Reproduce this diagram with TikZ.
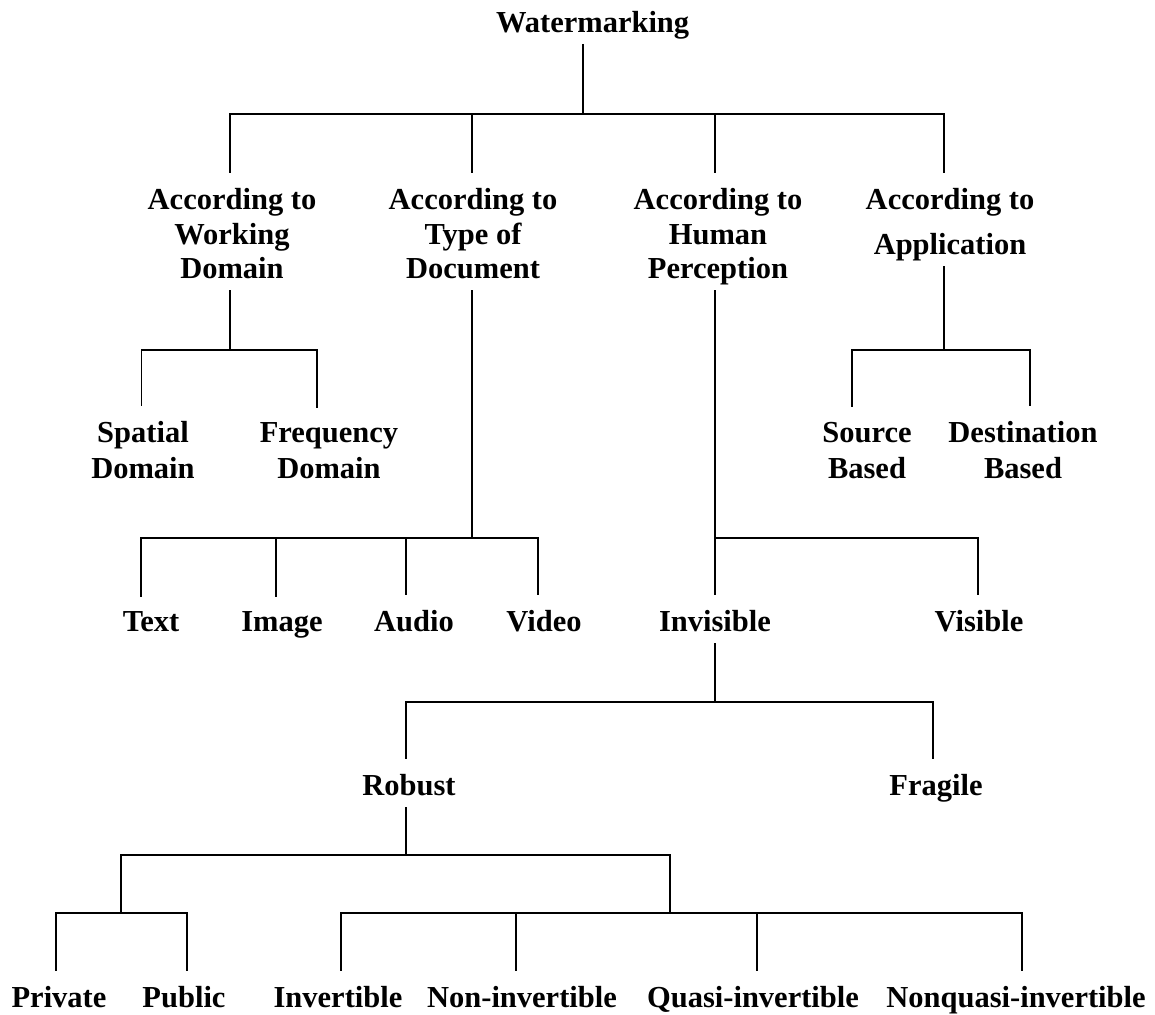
\documentclass[tikz,border=0pt]{standalone}
\usepackage{fontspec}
\setmainfont{Liberation Serif}
\begin{document}
\begin{tikzpicture}[x=1pt,y=-1pt,
  lbl/.style={font=\bfseries\fontsize{30.5}{34.5}\selectfont, inner sep=0pt,
              align=center, text depth=0pt, anchor=south},
  link/.style={line width=1.3pt, line cap=rect},
  into/.style={link, line cap=butt, shorten >=15pt},
  outof/.style={link, line cap=butt, shorten <=11pt},
]
\useasboundingbox (0,0) rectangle (1155,1014);

% ---- labels (placed by the baseline of their last line) ----
\node[lbl] (wm)  at (592.6,33)  {Watermarking};

\node[lbl] (wd)  at (232,279) {According to\\Working\\Domain};
\node[lbl] (td)  at (473,279) {According to\\Type of\\Document};
\node[lbl] (hp)  at (718,279) {According to\\Human\\Perception};
\node[lbl] (ap)  at (950,255) {According to\\[10.5pt]Application};

\node[lbl] (sp)  at (143,479)  {Spatial\\[1.5pt]Domain};
\node[lbl] (fr)  at (329,479)  {Frequency\\[1.5pt]Domain};
\node[lbl] (so)  at (867,479)  {Source\\[1.5pt]Based};
\node[lbl] (de)  at (1023,479) {Destination\\[1.5pt]Based};

\node[lbl] (tx)  at (151,632) {Text};
\node[lbl] (im)  at (282,632) {Image};
\node[lbl] (au)  at (414,632) {Audio};
\node[lbl] (vi)  at (544,632) {Video};
\node[lbl] (inv) at (715,632) {Invisible};
\node[lbl] (vis) at (979,632) {Visible};

\node[lbl] (rob) at (409,796) {Robust};
\node[lbl] (fra) at (936,796) {Fragile};

\node[lbl] (pri) at (59,1008)   {Private};
\node[lbl] (pub) at (184,1008)  {Public};
\node[lbl] (ivt) at (338,1008)  {Invertible};
\node[lbl] (niv) at (522,1008)  {Non-invertible};
\node[lbl] (qiv) at (753,1008)  {Quasi-invertible};
\node[lbl] (nqi) at (1016,1008) {Nonquasi-invertible};

% ---- junction points on the horizontal bars ----
\coordinate (jW) at (583,114);
\coordinate (bA) at (230,114);
\coordinate (bB) at (472,114);
\coordinate (bC) at (715,114);
\coordinate (bD) at (944,114);

\coordinate (jWD) at (230,350);
\coordinate (wd1) at (141.5,350);
\coordinate (wd2) at (317,350);

\coordinate (jAP) at (944,350);
\coordinate (ap1) at (852,350);
\coordinate (ap2) at (1030,350);

\coordinate (jTD) at (472,538);
\coordinate (td1) at (141,538);
\coordinate (td2) at (276,538);
\coordinate (td3) at (406,538);
\coordinate (td4) at (538,538);

\coordinate (jHP) at (715,538);
\coordinate (hp1) at (715,538);
\coordinate (hp2) at (978,538);

\coordinate (jIN) at (715,702);
\coordinate (in1) at (406,702);
\coordinate (in2) at (933,702);

\coordinate (jRO) at (406,855);
\coordinate (ro1) at (121,855);
\coordinate (ro2) at (670,855);

\coordinate (jK1) at (121,913);
\coordinate (k11) at (56,913);
\coordinate (k12) at (187,913);

\coordinate (jK2) at (670,913);
\coordinate (k21) at (341,913);
\coordinate (k22) at (516,913);
\coordinate (k23) at (757,913);
\coordinate (k24) at (1022,913);

% ---- connectors ----
% root
\draw[outof] (jW |- wm.south) -- (jW);
\draw[link] (bA) -- (bD);
\foreach \b/\n in {bA/wd, bB/td, bC/hp, bD/ap}
  \draw[into] (\b) -- (\b |- \n.north);

% according to working domain
\draw[outof] (jWD |- wd.south) -- (jWD);
\draw[link] (wd1) -- (wd2);
\foreach \b/\n in {wd1/sp, wd2/fr}
  \draw[into] (\b) -- (\b |- \n.north);

% according to application
\draw[outof] (jAP |- ap.south) -- (jAP);
\draw[link] (ap1) -- (ap2);
\foreach \b/\n in {ap1/so, ap2/de}
  \draw[into] (\b) -- (\b |- \n.north);

% according to type of document
\draw[outof] (jTD |- td.south) -- (jTD);
\draw[link] (td1) -- (td4);
\foreach \b/\n in {td1/tx, td2/im, td3/au, td4/vi}
  \draw[into] (\b) -- (\b |- \n.north);

% according to human perception
\draw[outof] (jHP |- hp.south) -- (jHP);
\draw[link] (hp1) -- (hp2);
\foreach \b/\n in {hp1/inv, hp2/vis}
  \draw[into] (\b) -- (\b |- \n.north);

% invisible
\draw[outof] (jIN |- inv.south) -- (jIN);
\draw[link] (in1) -- (in2);
\foreach \b/\n in {in1/rob, in2/fra}
  \draw[into] (\b) -- (\b |- \n.north);

% robust
\draw[outof] (jRO |- rob.south) -- (jRO);
\draw[link] (ro1) -- (ro2);
\draw[link] (ro1) -- (jK1);
\draw[link] (ro2) -- (jK2);

\draw[link] (k11) -- (k12);
\foreach \b/\n in {k11/pri, k12/pub}
  \draw[into] (\b) -- (\b |- \n.north);

\draw[link] (k21) -- (k24);
\foreach \b/\n in {k21/ivt, k22/niv, k23/qiv, k24/nqi}
  \draw[into] (\b) -- (\b |- \n.north);
\end{tikzpicture}
\end{document}
